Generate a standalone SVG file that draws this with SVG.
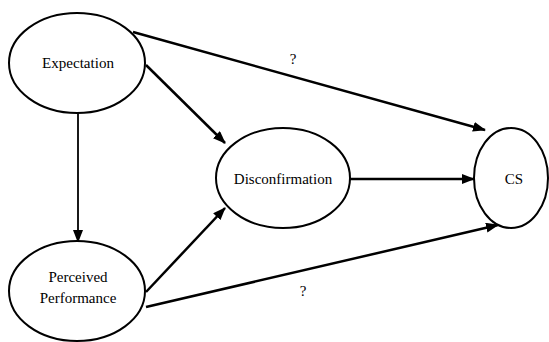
<svg xmlns="http://www.w3.org/2000/svg" width="549" height="342" viewBox="0 0 549 342">
<defs>
<marker id="ah" markerWidth="13" markerHeight="10" refX="12" refY="5" orient="auto" markerUnits="userSpaceOnUse">
<path d="M0,0 L13,5 L0,10 Z" fill="#000"/>
</marker>
<style>
.n{fill:#fff;stroke:#000;stroke-width:2}
.t{font-family:'Liberation Serif','DejaVu Serif',serif;font-size:15px;fill:#000;text-anchor:middle}
.c{stroke:#000;stroke-width:2.5;fill:none;marker-end:url(#ah)}
</style>
</defs>
<rect width="549" height="342" fill="#fff"/>
<g id="connectors">
<line class="c" x1="133" y1="32" x2="485" y2="130"/>
<line class="c" x1="146" y1="65" x2="225" y2="143"/>
<line class="c" x1="78" y1="113" x2="78" y2="242" style="stroke-width:1.8"/>
<line class="c" x1="146" y1="292" x2="225" y2="208"/>
<line class="c" x1="146" y1="307" x2="498" y2="225"/>
<line class="c" x1="350" y1="179" x2="474" y2="179"/>
<text class="t" x="293" y="64">?</text>
<text class="t" x="303" y="296">?</text>
</g>
<g id="expectation">
<ellipse class="n" cx="77" cy="63" rx="68" ry="50"/>
<text class="t" x="78" y="68" textLength="72" lengthAdjust="spacingAndGlyphs">Expectation</text>
</g>
<g id="perceived">
<ellipse class="n" cx="77" cy="291" rx="68" ry="50"/>
<text class="t" x="78" y="282">Perceived</text>
<text class="t" x="78" y="303">Performance</text>
</g>
<g id="disconfirmation">
<ellipse class="n" cx="283" cy="178" rx="67" ry="50"/>
<text class="t" x="283" y="184">Disconfirmation</text>
</g>
<g id="cs">
<ellipse class="n" cx="511" cy="178" rx="37" ry="50"/>
<text class="t" x="514" y="184">CS</text>
</g>
</svg>
